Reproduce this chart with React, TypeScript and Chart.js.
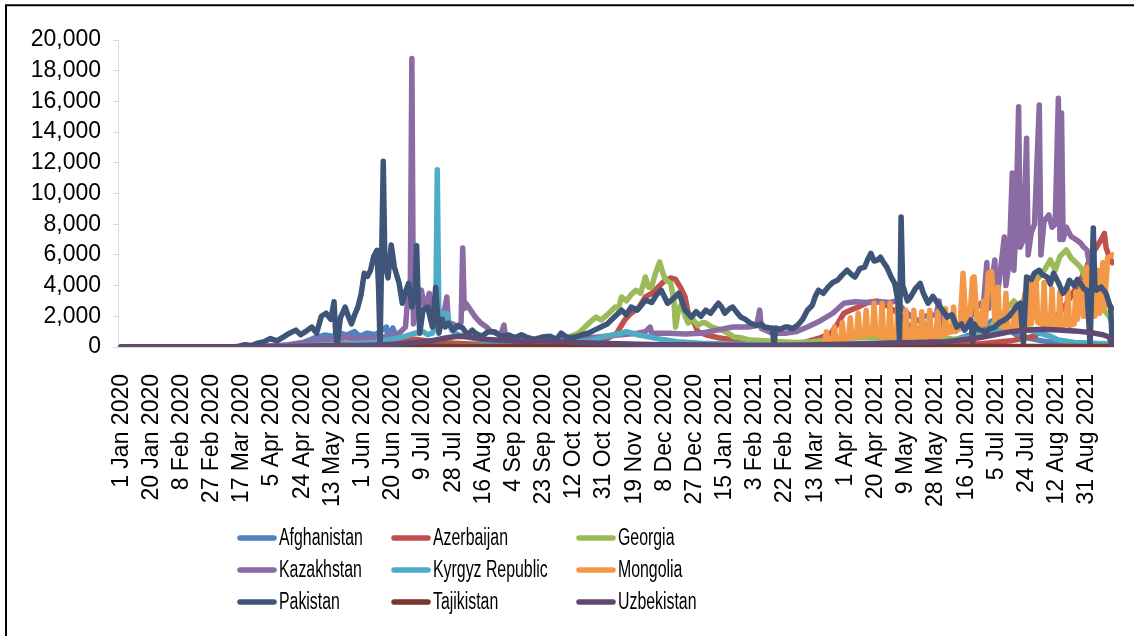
import React, { useEffect, useRef } from 'react';
import { Chart, registerables } from 'chart.js';

Chart.register(...registerables);

type P = [number, number];

// day index (0 = 1 Jan 2020) for each category tick label
const TICK_DAYS = [0, 19, 38, 57, 76, 95, 114, 133, 152, 171, 190, 209, 228, 247, 266, 285, 304, 323, 342, 361, 380, 399, 418, 437, 456, 475, 494, 513, 532, 551, 570, 589, 608];
const TICK_LABELS = [
  '1 Jan 2020', '20 Jan 2020', '8 Feb 2020', '27 Feb 2020', '17 Mar 2020', '5 Apr 2020', '24 Apr 2020', '13 May 2020',
  '1 Jun 2020', '20 Jun 2020', '9 Jul 2020', '28 Jul 2020', '16 Aug 2020', '4 Sep 2020', '23 Sep 2020', '12 Oct 2020',
  '31 Oct 2020', '19 Nov 2020', '8 Dec 2020', '27 Dec 2020', '15 Jan 2021', '3 Feb 2021', '22 Feb 2021', '13 Mar 2021',
  '1 Apr 2021', '20 Apr 2021', '9 May 2021', '28 May 2021', '16 Jun 2021', '5 Jul 2021', '24 Jul 2021', '12 Aug 2021', '31 Aug 2021',
];

const SERIES_NAMES = ['Afghanistan', 'Azerbaijan', 'Georgia', 'Kazakhstan', 'Kyrgyz Republic', 'Mongolia', 'Pakistan', 'Tajikistan', 'Uzbekistan'];
const SERIES_COLORS = ['#5083C0', '#C0504D', '#9BBB59', '#8B6BA3', '#4FACC7', '#F39846', '#3E5479', '#7A352F', '#604A72'];

const AFGHANISTAN: P[] = [[0,0],[70,0],[80,20],[95,60],[105,100],[115,300],[122,600],[128,780],[133,700],[138,900],[142,780],[147,1000],[150,700],[155,900],[160,800],[167,1300],[168,600],[171,1240],[174,450],[180,500],[190,400],[200,250],[215,100],[240,60],[280,50],[320,100],[360,150],[400,80],[450,80],[500,100],[520,300],[535,800],[545,1500],[550,1800],[556,1300],[565,700],[580,400],[600,150],[624,50]];

const AZERBAIJAN: P[] = [[0,0],[60,0],[80,20],[110,100],[130,200],[150,300],[170,400],[185,500],[200,300],[230,150],[260,120],[290,200],[305,500],[312,900],[317,1760],[321,2200],[326,2600],[330,3260],[334,3500],[338,3900],[342,4300],[346,4500],[349,4400],[352,3900],[355,3260],[357,2200],[359,1800],[361,1500],[363,1000],[368,800],[376,600],[390,400],[410,250],[430,300],[440,600],[447,900],[451,1500],[455,2200],[459,2400],[464,2600],[470,2900],[476,3000],[482,2700],[489,2200],[495,1500],[500,1000],[508,600],[520,300],[540,200],[560,400],[575,700],[589,2000],[595,2800],[602,4000],[607,5000],[611,6000],[614,6500],[617,7000],[619,7400],[620,6500],[622,5860],[624,5500]];

const GEORGIA: P[] = [[0,0],[60,0],[80,10],[120,20],[160,30],[200,50],[230,80],[250,150],[265,300],[275,500],[283,700],[288,900],[293,1400],[296,1700],[299,1950],[302,1760],[305,2000],[308,2300],[311,2600],[313,2500],[315,3260],[318,3000],[321,3400],[324,3700],[327,3500],[330,4560],[332,3900],[334,3900],[336,4700],[339,5540],[341,4800],[343,4350],[346,4150],[348,3000],[349,1300],[351,2500],[353,2850],[355,2000],[357,1560],[360,1800],[363,1400],[366,1600],[368,1560],[372,1300],[375,1200],[378,1100],[382,900],[386,650],[390,600],[396,450],[405,400],[415,350],[425,300],[435,350],[445,450],[455,550],[465,600],[475,600],[485,550],[492,600],[497,650],[502,1200],[506,1560],[509,900],[515,600],[525,500],[535,600],[545,900],[551,1800],[556,2300],[562,3000],[566,2500],[570,3600],[575,4200],[580,4800],[585,5670],[588,5000],[591,5900],[595,6320],[598,5800],[601,5500],[604,5200],[607,4500],[610,3800],[614,3000],[618,2500],[622,2000],[624,1500]];

const KAZAKHSTAN: P[] = [[0,0],[70,0],[80,20],[95,60],[105,150],[115,300],[125,400],[135,500],[142,650],[150,550],[160,600],[170,700],[175,900],[179,1300],[181,4000],[182,3500],[183,18800],[184,1500],[186,3000],[189,3700],[191,2500],[194,3500],[197,2000],[200,2400],[203,2000],[205,3260],[206,1560],[209,1500],[212,1300],[214,1600],[215,6450],[216,2500],[217,2850],[220,2400],[223,1950],[226,1600],[230,1300],[233,1000],[236,900],[239,800],[241,1430],[242,600],[246,650],[255,500],[265,450],[275,500],[285,550],[295,600],[305,700],[315,800],[325,900],[330,1000],[333,1300],[334,900],[345,900],[355,850],[365,900],[375,1100],[385,1300],[395,1300],[400,1400],[402,2400],[403,1200],[410,900],[418,900],[425,1000],[432,1300],[440,1700],[448,2200],[455,2850],[462,2950],[470,2900],[478,2950],[484,2900],[488,3000],[492,2500],[497,2000],[502,1700],[506,2000],[513,2100],[515,3000],[516,1500],[520,1200],[526,1300],[531,1560],[535,2000],[539,2600],[543,3000],[545,5500],[546,2500],[550,5670],[551,3000],[553,4500],[556,7170],[557,4000],[559,5500],[561,11330],[562,5000],[563,7000],[565,15650],[566,6500],[568,7000],[570,13600],[571,6000],[573,7500],[575,8000],[578,15770],[579,6000],[581,8200],[584,8600],[586,7800],[588,8000],[590,16200],[591,7000],[592,15250],[593,7000],[595,7800],[598,7200],[601,7000],[604,6770],[606,6500],[608,6320],[611,4560],[614,4000],[617,3500],[620,3000],[624,2500]];

const KYRGYZ: P[] = [[0,0],[70,0],[80,5],[100,30],[120,100],[140,200],[160,300],[175,600],[177,650],[185,900],[190,1000],[193,800],[196,900],[198,1500],[199,11550],[200,1800],[202,2200],[205,2200],[208,1100],[212,800],[220,600],[230,400],[245,250],[260,200],[280,250],[295,400],[305,700],[315,900],[318,1000],[325,800],[333,650],[340,500],[350,350],[365,250],[380,200],[400,150],[430,150],[460,200],[490,250],[510,300],[525,400],[531,600],[535,500],[545,800],[555,1200],[565,1300],[575,1000],[585,700],[590,450],[600,300],[612,250],[624,200]];

const MONGOLIA: P[] = [[0,0],[400,0],[425,10],[435,40],[440,100],[443,300],[444,1000],[445,300],[448,400],[449,1300],[450,400],[453,500],[454,1600],[455,500],[458,600],[459,1900],[460,600],[463,700],[464,2200],[465,700],[468,800],[469,2400],[470,800],[473,900],[474,2850],[475,800],[478,700],[479,2850],[480,700],[483,650],[484,2850],[485,650],[488,700],[489,2600],[490,600],[493,600],[494,2400],[495,600],[498,650],[499,2400],[500,600],[503,600],[504,2300],[505,600],[508,650],[509,2400],[510,650],[513,700],[514,2300],[515,700],[518,800],[519,2500],[520,900],[523,1000],[524,2600],[525,1000],[528,1200],[530,4800],[532,1300],[534,1500],[536,4500],[537,4560],[539,1400],[541,1300],[543,3000],[544,1500],[546,4800],[548,4900],[550,1800],[552,3900],[553,1400],[556,1300],[557,3500],[558,1200],[561,1100],[563,2800],[564,1300],[567,1300],[569,3500],[570,1200],[572,4400],[573,1500],[576,4500],[577,1600],[580,1500],[581,4200],[582,1400],[585,1500],[586,3800],[587,1400],[590,1300],[591,3600],[592,1300],[595,1500],[596,3800],[597,1400],[600,1500],[601,3600],[602,1800],[605,4200],[606,2000],[608,5200],[609,2200],[612,4800],[613,2000],[615,5000],[616,2200],[618,5500],[619,2500],[621,5800],[622,5860],[624,6000]];

const PAKISTAN: P[] = [[0,0],[70,0],[74,50],[78,150],[82,100],[86,250],[90,350],[94,550],[98,400],[102,650],[106,900],[110,1100],[113,800],[116,1000],[120,1300],[123,900],[126,2000],[129,2200],[132,1800],[134,2950],[135,1000],[136,200],[138,1900],[141,2600],[143,2000],[145,1500],[147,2100],[149,2600],[151,3400],[153,4800],[155,4600],[157,5000],[159,5900],[161,6300],[162,4000],[163,150],[164,6000],[165,12100],[166,5500],[168,4500],[170,6650],[172,5200],[175,4150],[177,2850],[179,3600],[181,4150],[183,2600],[185,3500],[186,6600],[187,3000],[188,900],[190,2400],[193,2600],[195,1700],[196,1300],[198,3900],[200,900],[202,1800],[204,1300],[206,1560],[209,1100],[212,1400],[215,1240],[218,800],[221,1100],[223,900],[227,700],[231,1000],[235,1000],[239,700],[244,780],[248,600],[252,800],[255,650],[260,500],[265,650],[270,700],[274,500],[277,900],[281,600],[286,650],[290,800],[294,900],[298,1100],[302,1300],[306,1500],[310,1900],[315,2400],[318,2100],[321,2600],[325,2400],[330,3050],[334,2900],[337,3400],[340,3700],[344,2850],[347,3100],[351,3500],[353,3000],[355,2400],[359,1950],[362,2300],[365,2000],[368,2400],[371,2200],[374,2600],[376,2850],[378,2600],[380,2200],[383,2500],[385,2600],[388,2200],[390,1950],[393,1800],[396,1560],[400,1400],[403,1500],[405,1300],[408,1250],[410,1240],[411,50],[412,1240],[415,1150],[418,1300],[420,1300],[423,1200],[426,1430],[429,1800],[432,2400],[435,2700],[437,3300],[439,3700],[442,3500],[445,3900],[448,4200],[451,4350],[454,4700],[457,5000],[460,4700],[462,4560],[465,5100],[468,5200],[470,5700],[472,6100],[474,5600],[476,5650],[478,5850],[480,5500],[482,5200],[485,4500],[487,4150],[489,3000],[490,450],[491,8470],[492,4000],[493,3700],[495,3000],[497,3260],[500,3800],[503,4150],[505,3500],[508,2850],[511,3300],[514,2850],[517,2400],[520,1950],[523,2100],[526,1300],[529,1500],[531,1100],[533,1400],[535,1760],[536,300],[537,1500],[539,1200],[541,1100],[544,1000],[547,1200],[550,1300],[553,1600],[556,1760],[559,2000],[562,2400],[564,2700],[566,2850],[567,1500],[568,250],[569,2500],[570,4560],[573,4400],[575,4820],[578,5000],[580,4700],[583,4560],[585,4100],[587,4800],[590,4200],[593,3500],[595,3800],[597,4350],[600,4000],[602,4400],[604,4150],[606,3800],[608,3700],[610,100],[612,7750],[613,4000],[614,3700],[617,3900],[620,3500],[622,2850],[623,2500],[624,0]];

const TAJIKISTAN: P[] = [[0,0],[120,0],[125,50],[140,100],[155,80],[170,60],[200,50],[250,40],[300,40],[350,40],[400,30],[450,30],[500,30],[550,40],[600,40],[624,30]];

const UZBEKISTAN: P[] = [[0,0],[75,0],[90,20],[110,50],[130,80],[150,100],[165,150],[175,200],[185,300],[195,400],[205,600],[212,700],[220,650],[228,500],[236,450],[245,400],[255,350],[265,400],[275,350],[285,300],[300,250],[320,200],[340,150],[360,150],[380,120],[400,100],[420,120],[440,150],[460,200],[480,250],[500,300],[520,350],[540,600],[550,800],[560,1000],[570,1100],[580,1150],[590,1100],[600,1050],[610,950],[618,800],[622,650],[624,50]];

const SERIES_DATA: P[][] = [AFGHANISTAN, AZERBAIJAN, GEORGIA, KAZAKHSTAN, KYRGYZ, MONGOLIA, PAKISTAN, TAJIKISTAN, UZBEKISTAN];

const FONT_FAMILY = '"Liberation Sans", Arial, Helvetica, sans-serif';

const legendAndFrame = {
  id: 'legendAndFrame',
  afterDraw(chart: any) {
    const ctx = chart.ctx as CanvasRenderingContext2D;
    ctx.save();
    const cols = [238, 392, 577];
    const rows = [538, 570, 602];
    chart.data.datasets.forEach((ds: any, i: number) => {
      const x = cols[i % 3];
      const y = rows[Math.floor(i / 3)];
      ctx.strokeStyle = ds.borderColor;
      ctx.lineWidth = 5.5;
      ctx.lineCap = 'round';
      ctx.beginPath();
      ctx.moveTo(x + 2, y);
      ctx.lineTo(x + 36, y);
      ctx.stroke();
      ctx.save();
      ctx.translate(x + 41, y + 1);
      ctx.scale(0.69, 1);
      ctx.font = `23px ${FONT_FAMILY}`;
      ctx.fillStyle = '#000';
      ctx.textBaseline = 'middle';
      ctx.textAlign = 'left';
      ctx.fillText(ds.label, 0, 0);
      ctx.restore();
    });
    ctx.strokeStyle = '#000';
    ctx.lineWidth = 2;
    ctx.lineCap = 'butt';
    ctx.beginPath();
    ctx.moveTo(6, 640);
    ctx.lineTo(6, 5.3);
    ctx.lineTo(1140, 5.3);
    ctx.stroke();
    ctx.restore();
  },
};

export default function App() {
  const ref = useRef<HTMLCanvasElement | null>(null);
  useEffect(() => {
    if (!ref.current) return;
    const n = SERIES_NAMES.length;
    const chart = new Chart(ref.current, {
      type: 'line',
      data: {
        datasets: SERIES_NAMES.map((name, i) => ({
          label: name,
          data: SERIES_DATA[i].map(([x, y]) => ({ x, y })),
          borderColor: SERIES_COLORS[i],
          backgroundColor: SERIES_COLORS[i],
          borderWidth: 5.5,
          borderCapStyle: 'round',
          borderJoinStyle: 'round',
          pointRadius: 0,
          tension: 0,
          fill: false,
          order: n - i,
        })),
      },
      options: {
        responsive: false,
        animation: false,
        events: [],
        layout: { padding: { top: 40, right: 17, bottom: 0, left: 0 } },
        plugins: { legend: { display: false }, tooltip: { enabled: false } },
        scales: {
          x: {
            type: 'linear',
            min: -2,
            max: 625,
            afterBuildTicks: (scale: any) => {
              scale.ticks = TICK_DAYS.map((v) => ({ value: v }));
            },
            afterFit: (scale: any) => {
              scale.height = 289;
            },
            grid: { display: false },
            border: { display: true, color: '#D9D9D9', width: 1 },
            ticks: {
              autoSkip: false,
              minRotation: 90,
              maxRotation: 90,
              padding: 19,
              color: '#000',
              font: { family: FONT_FAMILY, size: 23 },
              callback: (_v: any, idx: number) => TICK_LABELS[idx],
            },
          },
          y: {
            min: 0,
            max: 20000,
            afterFit: (scale: any) => {
              scale.width = 118;
            },
            grid: { display: true, drawOnChartArea: false, drawTicks: true, tickLength: 5, color: '#D9D9D9' },
            border: { display: true, color: '#D9D9D9', width: 1 },
            ticks: {
              stepSize: 2000,
              padding: 12,
              color: '#000',
              font: { family: FONT_FAMILY, size: 23 },
              callback: (v: any) => Number(v).toLocaleString('en-US'),
            },
          },
        },
      },
      plugins: [legendAndFrame],
    } as any);
    return () => chart.destroy();
  }, []);
  return (
    <div style={{ position: 'fixed', left: 0, top: 0, width: 1134, height: 636, background: '#fff', overflow: 'hidden' }}>
      <canvas ref={ref} width={1134} height={636} style={{ display: 'block', width: 1134, height: 636 }} />
    </div>
  );
}
